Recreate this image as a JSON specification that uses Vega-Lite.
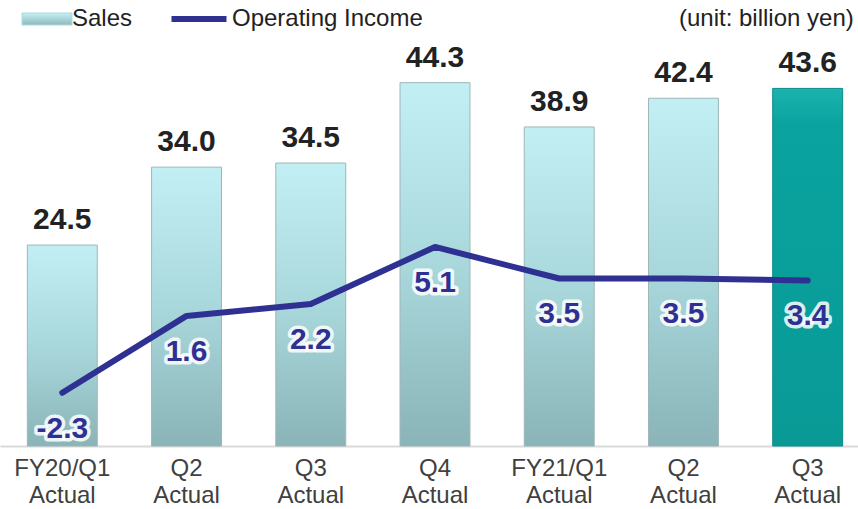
{
  "$schema": "https://vega.github.io/schema/vega-lite/v6.json",
  "autosize": "none",
  "width": 870,
  "height": 406,
  "padding": {"top": 40, "left": 0, "right": -12, "bottom": 63},
  "background": "white",
  "data": {
    "values": [
      {"q": "FY20/Q1", "sales": 24.5, "oi": -2.3},
      {"q": "FY20/Q2", "sales": 34.0, "oi": 1.6},
      {"q": "FY20/Q3", "sales": 34.5, "oi": 2.2},
      {"q": "FY20/Q4", "sales": 44.3, "oi": 5.1},
      {"q": "FY21/Q1", "sales": 38.9, "oi": 3.5},
      {"q": "FY21/Q2", "sales": 42.4, "oi": 3.5},
      {"q": "FY21/Q3", "sales": 43.6, "oi": 3.4}
    ]
  },
  "transform": [
    {"calculate": "replace(format(datum.oi, '.1f'), '\u2212', '-')", "as": "oiText"}
  ],
  "encoding": {
    "x": {
      "field": "q",
      "type": "nominal",
      "sort": null,
      "scale": {"paddingInner": 0.437, "paddingOuter": 0.22},
      "axis": {
        "title": null,
        "labelAngle": 0,
        "ticks": false,
        "grid": false,
        "domainColor": "#d9d9d9",
        "domainWidth": 2,
        "labelFont": "Liberation Sans",
        "labelFontSize": 24,
        "labelColor": "#404040",
        "labelLineHeight": 27,
        "labelPadding": 10,
        "labelBaseline": "top",
        "labelExpr": "[(datum.value == 'FY20/Q1' || datum.value == 'FY21/Q1') ? datum.value : slice(datum.value, 5), 'Actual']"
      }
    }
  },
  "layer": [
    {
      "layer": [
        {
          "transform": [{"filter": "datum.q != 'FY21/Q3'"}],
          "mark": {"type": "bar", "stroke": "#9fb6b8", "strokeWidth": 1},
          "encoding": {
            "y": {"field": "sales", "type": "quantitative", "scale": {"domain": [0, 49.5], "nice": false}, "axis": null},
            "fill": {"value": {"gradient": "linear", "x1": 0, "y1": 0, "x2": 0, "y2": 1, "stops": [{"offset": 0, "color": "#c2eff3"}, {"offset": 0.5, "color": "#a9d8dc"}, {"offset": 1, "color": "#8ab4b7"}]}}
          }
        },
        {
          "transform": [{"filter": "datum.q == 'FY21/Q3'"}],
          "mark": {"type": "bar", "stroke": "#0a8a86", "strokeWidth": 1},
          "encoding": {
            "y": {"field": "sales", "type": "quantitative", "scale": {"domain": [0, 49.5], "nice": false}, "axis": null},
            "fill": {"value": {"gradient": "linear", "x1": 0, "y1": 0, "x2": 0, "y2": 1, "stops": [{"offset": 0, "color": "#1ab3ae"}, {"offset": 0.1, "color": "#0aa39f"}, {"offset": 1, "color": "#099a96"}]}}
          }
        },
        {
          "mark": {"type": "text", "baseline": "alphabetic", "dy": -16, "font": "Liberation Sans", "fontSize": 30, "fontWeight": "bold", "color": "#222222"},
          "encoding": {
            "y": {"field": "sales", "type": "quantitative", "scale": {"domain": [0, 49.5], "nice": false}, "axis": null},
            "text": {"field": "sales", "type": "quantitative", "format": ".1f"}
          }
        }
      ]
    },
    {
      "layer": [
        {
          "mark": {"type": "line", "strokeWidth": 6, "strokeCap": "round", "strokeJoin": "round"},
          "encoding": {
            "y": {"field": "oi", "type": "quantitative", "scale": {"domain": [-5, 15.6], "nice": false, "zero": false}, "axis": null},
            "color": {
              "datum": "Operating Income",
              "scale": {"domain": ["Sales", "Operating Income"], "range": ["#a9dbe0", "#2e3192"]},
              "legend": {
                "orient": "none",
                "legendX": 35,
                "legendY": -33,
                "direction": "horizontal",
                "title": "(unit: billion yen)",
                "titleOrient": "right",
                "titlePadding": 256,
                "titleFont": "Liberation Sans",
                "titleFontSize": 24,
                "titleFontWeight": "normal",
                "titleColor": "#222222",
                "titleBaseline": "middle",
                "titleAnchor": "middle",
                "titleLimit": 400,
                "padding": 0,
                "labelFont": "Liberation Sans",
                "labelFontSize": 24,
                "labelColor": "#222222",
                "labelLimit": 400,
                "symbolSize": 2500,
                "labelOffset": 13,
                "columnPadding": 38,
                "encode": {
                  "symbols": {
                    "update": {
                      "shape": {"signal": "datum.value === 'Sales' ? 'M-1,-0.24H1V0.24H-1Z' : 'M-1.42,-0.12H0.78V0.12H-1.42Z'"},
                      "fill": [
                        {"test": "datum.value === 'Sales'", "value": {"gradient": "linear", "x1": 0, "y1": 0, "x2": 0, "y2": 1, "stops": [{"offset": 0, "color": "#c4f0f4"}, {"offset": 1, "color": "#8fb8bb"}]}},
                        {"value": "#2e3192"}
                      ],
                      "stroke": {"value": "#9fb6b8"},
                      "strokeWidth": {"signal": "datum.value === 'Sales' ? 1 : 0"},
                      "opacity": {"value": 1}
                    }
                  }
                }
              }
            }
          }
        },
        {
          "mark": {"type": "text", "baseline": "middle", "dy": 36, "font": "Liberation Sans", "fontSize": 30, "fontWeight": "bold", "fill": "white", "stroke": "white", "strokeWidth": 7, "strokeOpacity": 0.85, "strokeJoin": "round"},
          "encoding": {
            "y": {"field": "oi", "type": "quantitative", "scale": {"domain": [-5, 15.6], "nice": false, "zero": false}, "axis": null},
            "text": {"field": "oiText", "type": "nominal"}
          }
        },
        {
          "mark": {"type": "text", "baseline": "middle", "dy": 36, "font": "Liberation Sans", "fontSize": 30, "fontWeight": "bold", "fill": "#2e3192"},
          "encoding": {
            "y": {"field": "oi", "type": "quantitative", "scale": {"domain": [-5, 15.6], "nice": false, "zero": false}, "axis": null},
            "text": {"field": "oiText", "type": "nominal"}
          }
        }
      ]
    }
  ],
  "resolve": {"scale": {"y": "independent"}},
  "config": {"view": {"stroke": null}}
}
